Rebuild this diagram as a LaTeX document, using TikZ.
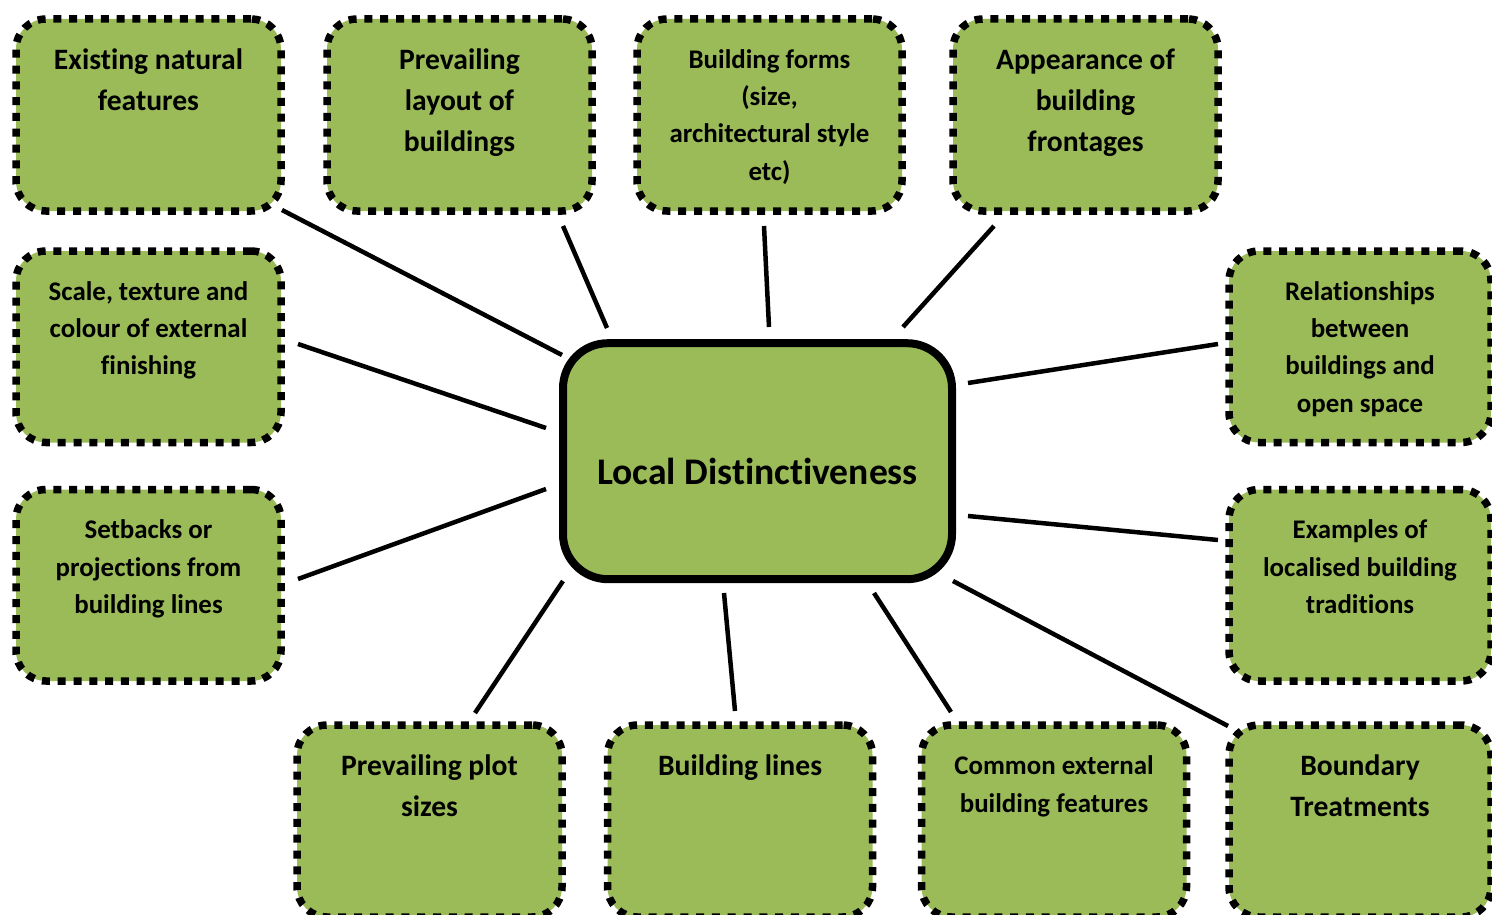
\documentclass[tikz,border=0pt]{standalone}
\usepackage{fontspec}
\setmainfont{Carlito}[Ligatures=NoCommon]
\usetikzlibrary{calc}
\definecolor{leaf}{HTML}{9BBB59}
\tikzset{
  topic/.style={draw=black, fill=leaf, line width=7.5pt, dash pattern=on 8pt off 7.8pt,
    rounded corners=30pt, inner sep=0pt, minimum height=192pt, minimum width=265pt},
  hub/.style={draw=black, fill=leaf, line width=8pt, rounded corners=45pt, inner sep=0pt,
    minimum width=389pt, minimum height=236pt},
  caption/.style={anchor=base, inner sep=0pt, font=\bfseries},
  spoke/.style={draw=black, line width=4.5pt},
}
% centred, top-aligned caption: width, size, line distance, lines
\newcommand{\capt}[4]{\parbox[t]{#1pt}{\centering\fontsize{#2}{#3}\selectfont #4}}
\newcommand{\bigcapt}[1]{\capt{255}{29.6}{41}{#1}}
\newcommand{\smallcapt}[1]{\capt{255}{26.9}{37.3}{#1}}
\begin{document}
\begin{tikzpicture}[x=1pt,y=-1pt]
\useasboundingbox (0,0) rectangle (1492,915);
% topic boxes
\node[topic] (b1) at (148.5,115) {};
\node[topic] (b2) at (459.5,115) {};
\node[topic] (b3) at (769.5,115) {};
\node[topic] (b4) at (1085.5,115) {};
\node[topic, minimum height=191.5pt] (b5) at (148.5,346.75) {};
\node[topic, minimum height=191.5pt] (b6) at (148.5,585.25) {};
\node[topic, minimum height=191.5pt, minimum width=262pt] (b7) at (1360,346.75) {};
\node[topic, minimum height=191.5pt, minimum width=262pt] (b8) at (1360,585.25) {};
\node[topic] (b9) at (429.5,821) {};
\node[topic] (b10) at (740,821) {};
\node[topic] (b11) at (1054,821) {};
\node[topic, minimum width=262pt] (b12) at (1360,821) {};
% captions
\node[caption] (t1) at ($(b1.north)+(0,54.5)$) {\bigcapt{Existing natural\\features}};
\node[caption] (t2) at ($(b2.north)+(0,54.5)$) {\bigcapt{Prevailing\\layout of\\buildings}};
\node[caption] (t3) at ($(b3.north)+(0,53)$) {\smallcapt{Building forms\\(size,\\architectural style\\etc)}};
\node[caption] (t4) at ($(b4.north)+(0,54.5)$) {\bigcapt{Appearance of\\building\\frontages}};
\node[caption] (t5) at ($(b5.north)+(0,53)$) {\smallcapt{Scale, texture and\\colour of external\\finishing}};
\node[caption] (t6) at ($(b6.north)+(0,53)$) {\smallcapt{Setbacks or\\projections from\\building lines}};
\node[caption] (t7) at ($(b7.north)+(0,53)$) {\smallcapt{Relationships\\between\\buildings and\\open space}};
\node[caption] (t8) at ($(b8.north)+(0,53)$) {\smallcapt{Examples of\\localised building\\traditions}};
\node[caption] (t9) at ($(b9.north)+(0,54.5)$) {\bigcapt{Prevailing plot\\sizes}};
\node[caption] (t10) at ($(b10.north)+(0,54.5)$) {\bigcapt{Building lines}};
\node[caption] (t11) at ($(b11.north)+(0,53)$) {\capt{255}{26.9}{38}{Common external\\building features}};
\node[caption] (t12) at ($(b12.north)+(0,54.5)$) {\bigcapt{Boundary\\Treatments}};
% central box
\node[hub] (hub) at (757.5,461.2) {};
\node[inner sep=0pt, font=\bfseries\fontsize{37.6}{42}\selectfont] (ht) at (757.5,471) {Local Distinctiveness};
% spoke end points
\coordinate (s1a) at (282,210);  \coordinate (s1b) at (562,355);
\coordinate (s2a) at (563,226);  \coordinate (s2b) at (607,328);
\coordinate (s3a) at (764,226);  \coordinate (s3b) at (769,327);
\coordinate (s4a) at (994,226);  \coordinate (s4b) at (903,327);
\coordinate (s5a) at (298,344);  \coordinate (s5b) at (546,428);
\coordinate (s6a) at (298,579);  \coordinate (s6b) at (546,489);
\coordinate (s7a) at (1218,344); \coordinate (s7b) at (968,383);
\coordinate (s8a) at (1218,540); \coordinate (s8b) at (968,516);
\coordinate (s9a) at (475,713);  \coordinate (s9b) at (563,581);
\coordinate (s10a) at (735,711); \coordinate (s10b) at (724,593);
\coordinate (s11a) at (951,712); \coordinate (s11b) at (874,593);
\coordinate (s12a) at (1228,726);\coordinate (s12b) at (953,581);
\foreach \i in {1,...,12} {\draw[spoke] (s\i a) -- (s\i b);}
\end{tikzpicture}
\end{document}
